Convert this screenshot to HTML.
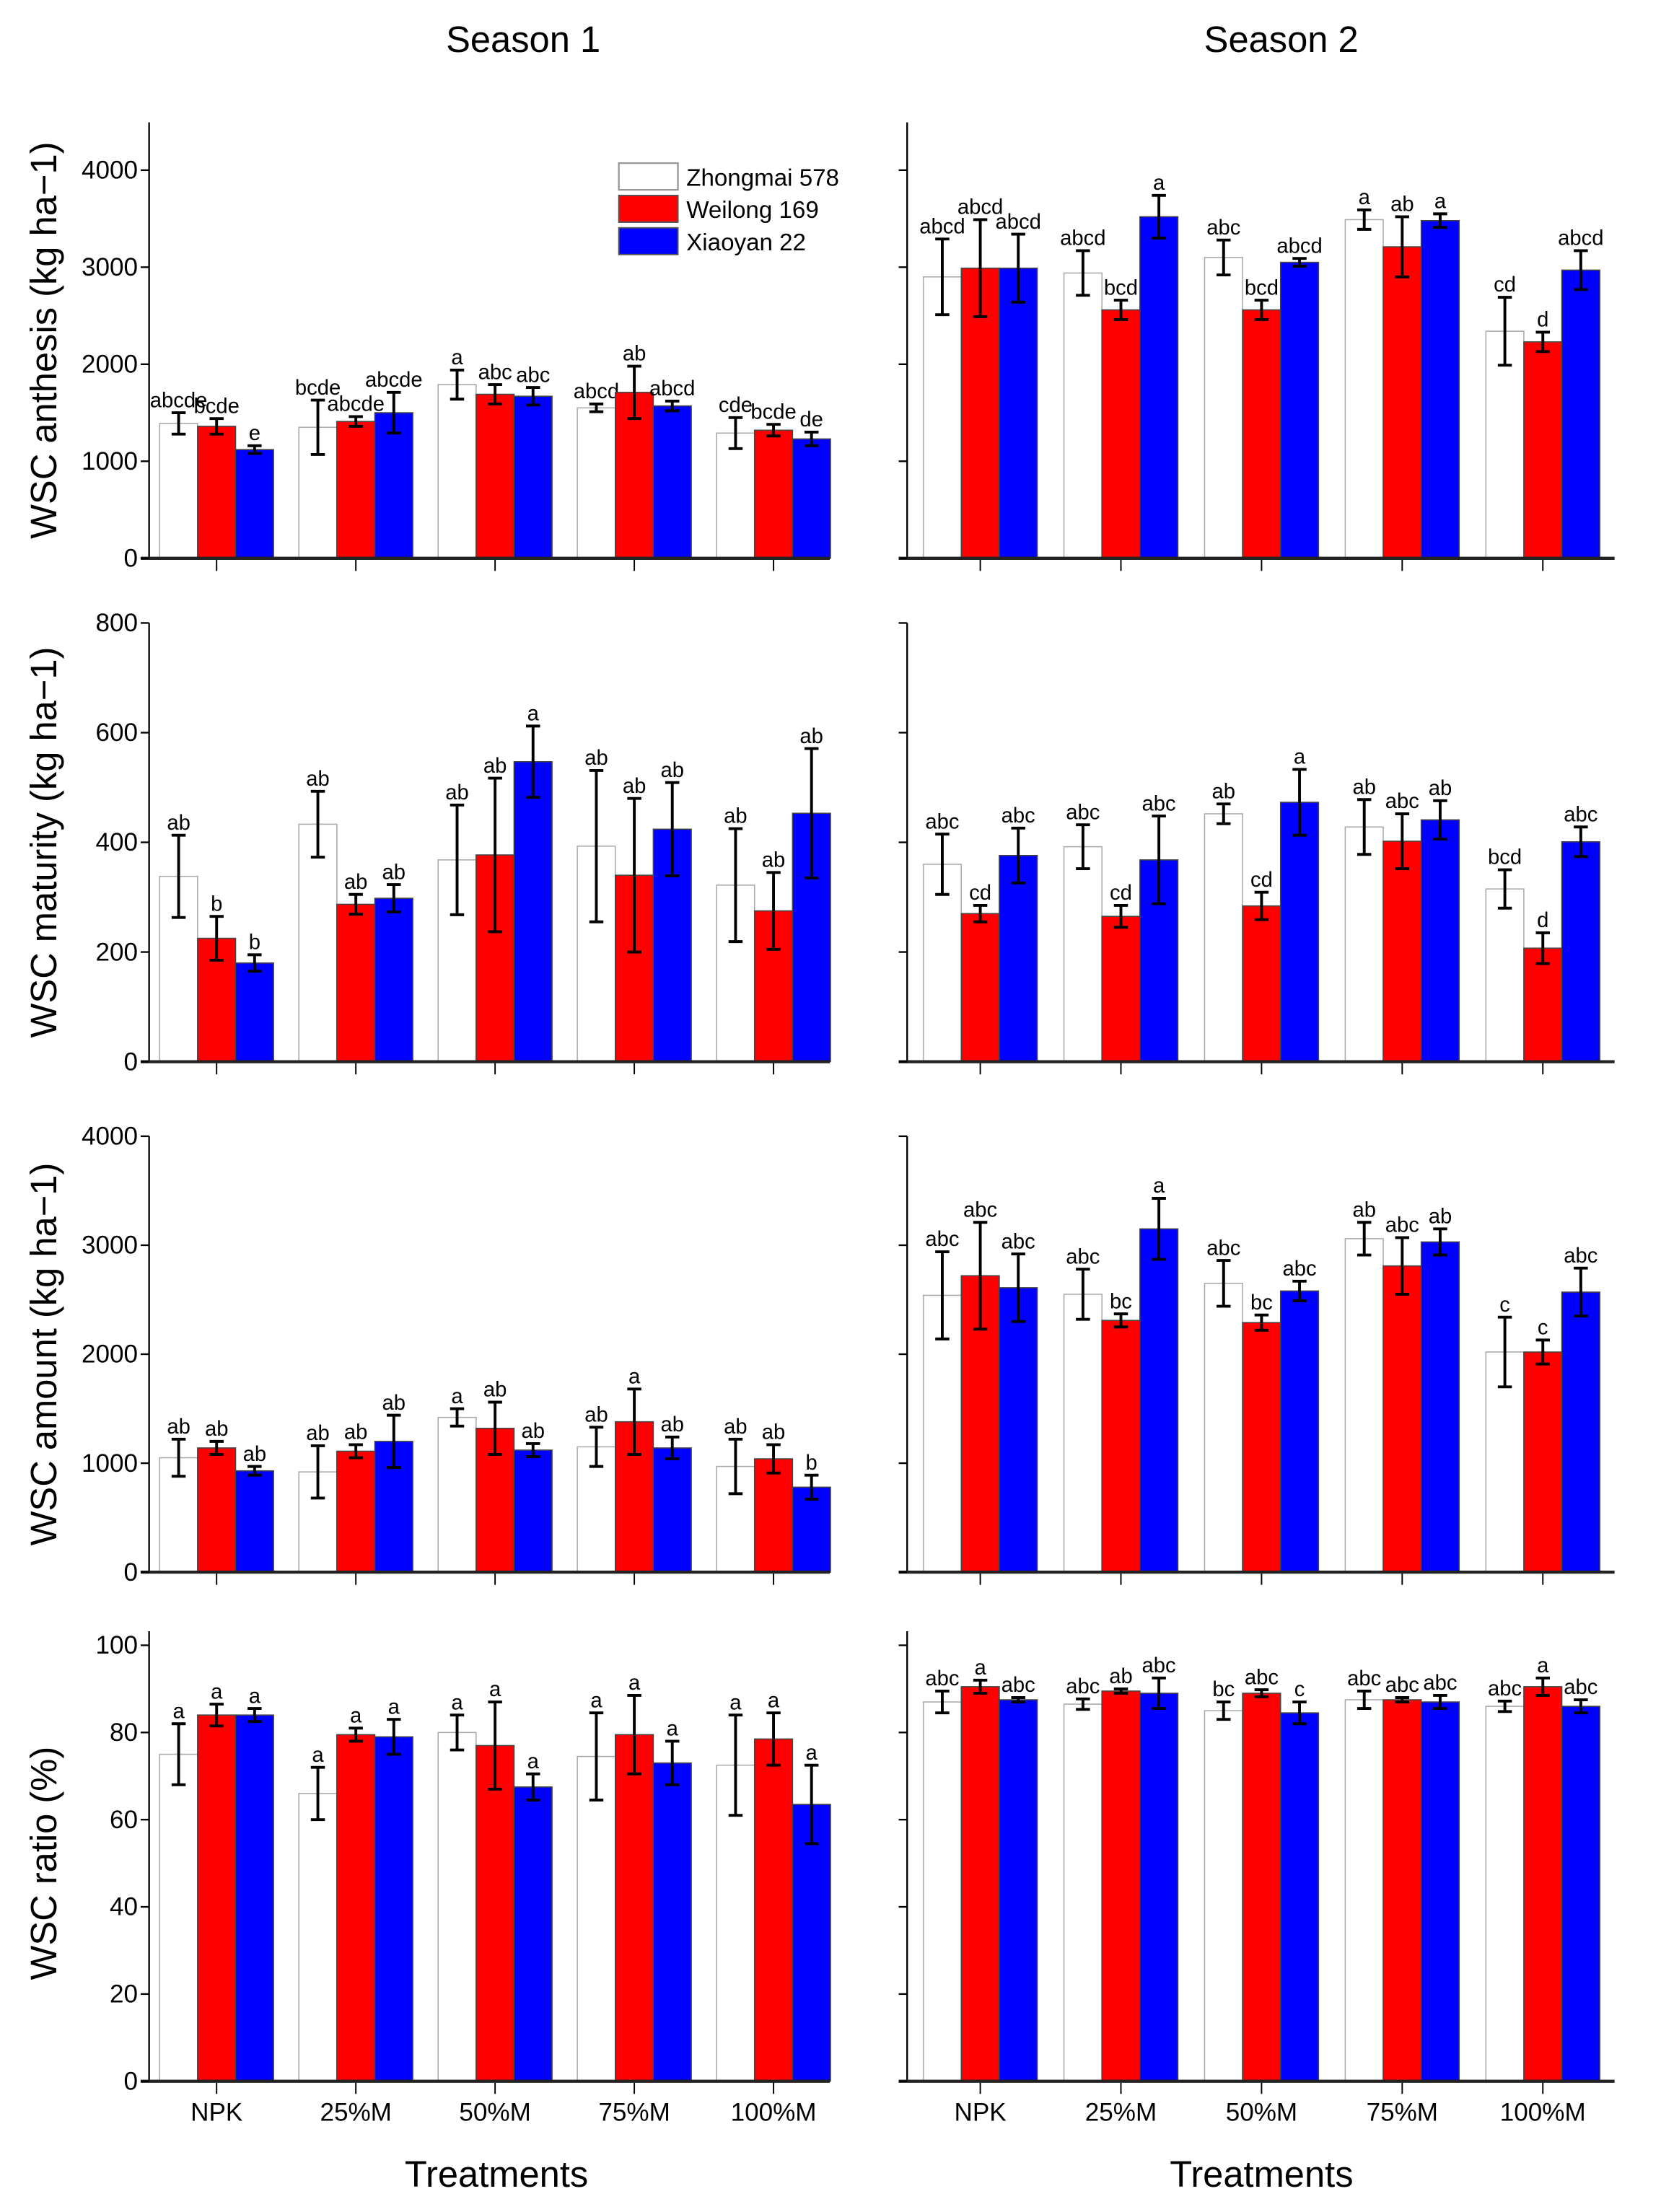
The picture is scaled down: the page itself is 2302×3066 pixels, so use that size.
<!DOCTYPE html>
<html><head><meta charset="utf-8"><style>
html,body{margin:0;padding:0;background:#fff;}
svg{display:block;}
text{font-family:"Liberation Sans",Arial,sans-serif;fill:#000;}
</style></head><body>
<svg id="s" width="2302" height="3066" viewBox="0 0 1181 1573" xmlns="http://www.w3.org/2000/svg">
<text x="372" y="37" font-size="26" text-anchor="middle">Season 1</text>
<text x="911" y="37" font-size="26" text-anchor="middle">Season 2</text>
<text x="353" y="1555" font-size="26" text-anchor="middle">Treatments</text>
<text x="897" y="1555" font-size="26" text-anchor="middle">Treatments</text>
<g font-size="18" text-anchor="middle">
<text x="154" y="1508">NPK</text><text x="253" y="1508">25%M</text><text x="352" y="1508">50%M</text><text x="451" y="1508">75%M</text><text x="550" y="1508">100%M</text>
<text x="697" y="1508">NPK</text><text x="797" y="1508">25%M</text><text x="897" y="1508">50%M</text><text x="997" y="1508">75%M</text><text x="1097" y="1508">100%M</text>
</g>
<g font-size="26" text-anchor="middle">
<text transform="translate(40,242) rotate(-90)">WSC anthesis (kg ha−1)</text>
<text transform="translate(40,599) rotate(-90)">WSC maturity (kg ha−1)</text>
<text transform="translate(40,963) rotate(-90)">WSC amount (kg ha−1)</text>
<text transform="translate(40,1325) rotate(-90)">WSC ratio (%)</text>
</g>
<g id="g"></g>
<rect x="440" y="116" width="42" height="19" fill="#fff" stroke="#999" stroke-width="1.2"/>
<rect x="440" y="139" width="42" height="19" fill="#f00" stroke="#555" stroke-width="1"/>
<rect x="440" y="162" width="42" height="19" fill="#00f" stroke="#555" stroke-width="1"/>
<g font-size="17"><text x="488" y="132">Zhongmai 578</text><text x="488" y="155">Weilong 169</text><text x="488" y="178">Xiaoyan 22</text></g>
</svg>
<script>
var rows=[
{top:87,zero:397,max:4500,ticks:[0,1000,2000,3000,4000],
 L:[[1390,110,'abcde',1360,80,'bcde',1120,40,'e'],[1350,280,'bcde',1410,50,'abcde',1500,210,'abcde'],[1790,150,'a',1690,100,'abc',1670,90,'abc'],[1550,40,'abcd',1710,270,'ab',1570,50,'abcd'],[1290,160,'cde',1320,60,'bcde',1230,70,'de']],
 R:[[2900,390,'abcd',2990,500,'abcd',2990,350,'abcd'],[2940,230,'abcd',2560,100,'bcd',3520,220,'a'],[3100,180,'abc',2560,100,'bcd',3050,40,'abcd'],[3490,100,'a',3210,310,'ab',3480,70,'a'],[2340,350,'cd',2230,100,'d',2970,200,'abcd']]},
{top:443,zero:755,max:800,ticks:[0,200,400,600,800],
 L:[[338,75,'ab',225,40,'b',180,15,'b'],[433,60,'ab',287,18,'ab',298,25,'ab'],[368,100,'ab',377,140,'ab',547,65,'a'],[393,138,'ab',340,140,'ab',424,85,'ab'],[322,103,'ab',275,70,'ab',453,118,'ab']],
 R:[[360,55,'abc',270,15,'cd',376,50,'abc'],[392,40,'abc',265,20,'cd',368,80,'abc'],[452,18,'ab',284,25,'cd',473,60,'a'],[428,50,'ab',402,50,'abc',441,35,'ab'],[315,35,'bcd',207,28,'d',401,27,'abc']]},
{top:808,zero:1118,max:4000,ticks:[0,1000,2000,3000,4000],
 L:[[1050,170,'ab',1140,60,'ab',930,40,'ab'],[920,240,'ab',1110,60,'ab',1200,240,'ab'],[1420,80,'a',1320,240,'ab',1120,60,'ab'],[1150,180,'ab',1380,300,'a',1140,100,'ab'],[970,250,'ab',1040,130,'ab',780,110,'b']],
 R:[[2540,400,'abc',2720,490,'abc',2610,310,'abc'],[2550,230,'abc',2310,60,'bc',3150,280,'a'],[2650,210,'abc',2290,70,'bc',2580,90,'abc'],[3060,150,'ab',2810,260,'abc',3030,120,'ab'],[2020,320,'c',2020,110,'c',2570,220,'abc']]},
{top:1170,zero:1480,max:100,ticks:[0,20,40,60,80,100],
 L:[[75,7,'a',84,2.5,'a',84,1.5,'a'],[66,6,'a',79.5,1.5,'a',79,4,'a'],[80,4,'a',77,10,'a',67.5,3,'a'],[74.5,10,'a',79.5,9,'a',73,5,'a'],[72.5,11.5,'a',78.5,6,'a',63.5,9,'a']],
 R:[[87,2.5,'abc',90.5,1.5,'a',87.5,0.5,'abc'],[86.5,1.2,'abc',89.5,0.5,'ab',89,3.5,'abc'],[85,2,'bc',89,0.8,'abc',84.5,2.5,'c'],[87.5,2,'abc',87.5,0.5,'abc',87,1.5,'abc'],[86,1.2,'abc',90.5,2,'a',86,1.5,'abc']]}
];
var out='';
var cols=['#fff','#f00','#00f'],strokes=['#aaa','#444','#444'];
rows.forEach(function(r){
 var ky=(r.zero-r.top)/r.max; if(r.max==4500)ky=(397-121)/4000;
 [['L',106,590,154,99,true],['R',645,1148,697,100,false]].forEach(function(p){
  var d=r[p[0]],ax=p[1],ex=p[2];
  var topY=(r.max==100)?r.top-10:r.top;
  d.forEach(function(g,i){
   var c=p[3]+p[4]*i;
   for(var k=0;k<3;k++){
    var v=g[k*3],e=g[k*3+1],l=g[k*3+2];
    var x=c-40.5+27*k,y=r.zero-v*ky;
    out+='<rect x="'+x+'" y="'+y+'" width="27" height="'+(r.zero-y)+'" fill="'+cols[k]+'" stroke="'+strokes[k]+'" stroke-width="0.8"/>';
    var bx=x+13.5,y1=r.zero-(v+e)*ky,y2=r.zero-(v-e)*ky;
    out+='<path d="M'+bx+' '+y1+'V'+y2+'M'+(bx-5)+' '+y1+'H'+(bx+5)+'M'+(bx-5)+' '+y2+'H'+(bx+5)+'" stroke="#000" stroke-width="2" fill="none"/>';
    out+='<text x="'+bx+'" y="'+(y1-4)+'" font-size="15" text-anchor="middle">'+l+'</text>';
   }
   out+='<line x1="'+c+'" y1="'+(r.zero+1)+'" x2="'+c+'" y2="'+(r.zero+9)+'" stroke="#000" stroke-width="1"/>';
  });
  out+='<line x1="'+ax+'" y1="'+topY+'" x2="'+ax+'" y2="'+r.zero+'" stroke="#000" stroke-width="1.2"/>';
  out+='<line x1="'+(ax-6)+'" y1="'+r.zero+'" x2="'+ex+'" y2="'+r.zero+'" stroke="#222" stroke-width="2.2"/>';
  r.ticks.forEach(function(t){
   var y=r.zero-t*ky;
   out+='<line x1="'+(ax-6)+'" y1="'+y+'" x2="'+ax+'" y2="'+y+'" stroke="#000" stroke-width="1.2"/>';
   if(p[5])out+='<text x="'+(ax-8)+'" y="'+(y+6)+'" font-size="18" text-anchor="end">'+t+'</text>';
  });
 });
});
document.getElementById('g').innerHTML=out;
</script>
</body></html>
